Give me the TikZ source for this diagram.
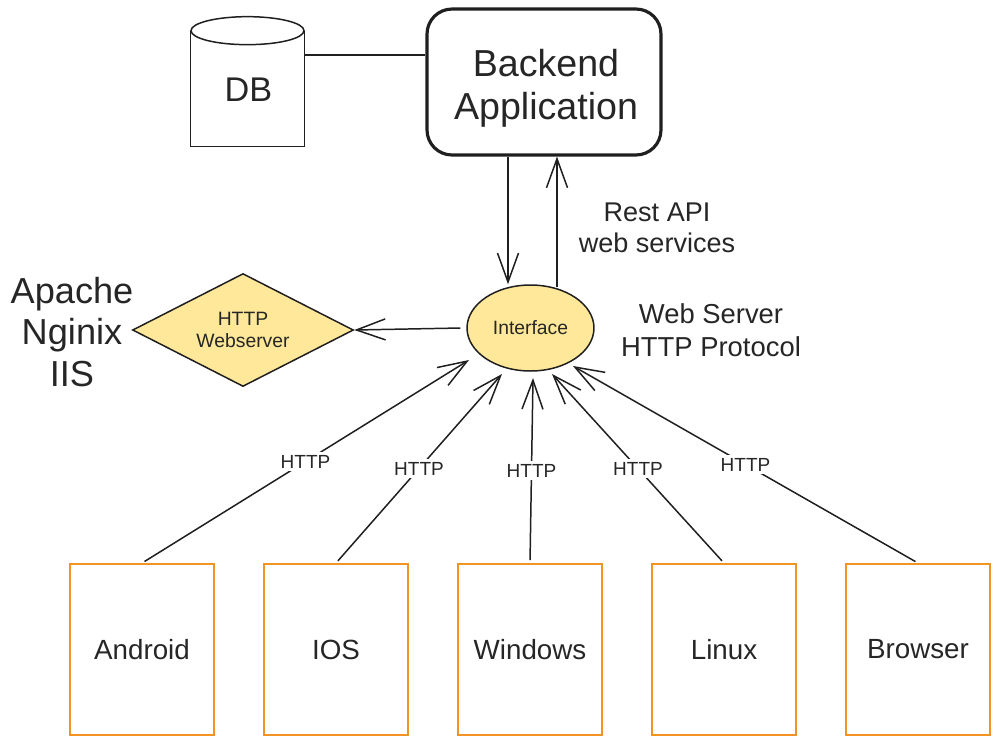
\documentclass[tikz,border=0pt]{standalone}
\usepackage{fontspec}
\setmainfont{Liberation Sans}
\usetikzlibrary{arrows.meta,shapes.geometric,calc}
\definecolor{ink}{HTML}{1F1F1F}
\definecolor{txt}{HTML}{262626}
\definecolor{yel}{HTML}{FFE899}
\definecolor{org}{HTML}{F29423}
\begin{document}
\begin{tikzpicture}[x=0.02cm,y=-0.02cm,
  line/.style={draw=ink, line width=0.85pt},
  arr/.style={line, -{Straight Barb[length=0.58cm,width=0.42cm,line width=0.85pt]}},
  lbl/.style={fill=white, inner sep=1.5pt, font=\fontsize{10.8}{12}\selectfont, text=txt},
  dev/.style={draw=org, line width=1.1pt, minimum width=2.88cm, minimum height=3.42cm, inner sep=0pt, font=\fontsize{15.8}{18}\selectfont, text=txt},
  yshape/.style={draw=ink, line width=0.85pt, fill=yel, inner sep=0pt, text=txt},
  bigtxt/.style={align=center, text=txt}
]
\useasboundingbox (0,0) rectangle (1000,745);

% Database
\node[minimum width=2.26cm, minimum height=2.58cm, inner sep=0pt] (db) at (247.5,81.5) {};
\draw[line] ($(db.north west)+(0,14)$) -- (db.south west) -- (db.south east) -- ($(db.north east)+(0,14)$);
\draw[line] ($(db.north)+(0,14)$) ellipse [x radius=1.13cm, y radius=0.28cm];
\node[font=\fontsize{19.5}{23}\selectfont, text=txt] (dblbl) at (248.5,90) {DB};

% Backend
\node[draw=ink, line width=1.8pt, rounded corners=0.5cm, minimum width=4.68cm, minimum height=2.92cm, inner sep=0pt] (backend) at (544,82) {};
\node[bigtxt, font=\fontsize{21.4}{24.6}\selectfont] (backendlbl) at (546,88.5) {Backend\\Application};

\coordinate (dbport) at (304,55);
\draw[line] (dbport) -- (dbport -| backend.west);

% Interface and webserver
\node[yshape, ellipse, minimum width=2.54cm, minimum height=1.72cm, font=\fontsize{11}{13}\selectfont] (iface) at (530.5,328) {Interface};
\node[yshape, diamond, aspect=1.96, minimum width=4.42cm, minimum height=2.26cm, align=center, font=\fontsize{11}{12.5}\selectfont] (web) at (243,330) {HTTP\\Webserver};

\coordinate (dn) at ($(backend.south)+(-36,0)$);
\coordinate (up) at ($(backend.south)+(13,0)$);
\draw[arr] (dn) -- (dn |- iface.north);
\draw[arr] ($(up |- iface.north)+(0,3)$) -- (up);
\draw[arr] ($(iface.west)+(-6,0)$) -- (web.east);

% Text labels
\node[bigtxt, font=\fontsize{20.6}{23.4}\selectfont] (servers) at (72,332) {Apache\\Nginix\\IIS};
\node[bigtxt, font=\fontsize{15.4}{17.6}\selectfont] (rest) at (657,228) {Rest API\\web services};
\node[bigtxt, font=\fontsize{15.6}{18.6}\selectfont] (proto) at (711,330) {Web Server\\HTTP Protocol};

% Clients
\node[dev] (android) at (142,649.5) {Android};
\node[dev] (ios) at (336,649.5) {IOS};
\node[dev] (windows) at (530,649.5) {Windows};
\node[dev] (linux) at (724,649.5) {Linux};
\node[dev] (browser) at (918,649.5) {Browser};

\coordinate (tA) at (469,360);
\coordinate (tI) at (502,374);
\coordinate (tW) at (533,378);
\coordinate (tL) at (552,374);
\coordinate (tB) at (573,366);

\draw[arr, shorten <=1.7pt] (android.north) -- node[lbl] {HTTP} (tA);
\draw[arr, shorten <=1.7pt] (ios.north) -- node[lbl] {HTTP} (tI);
\draw[arr, shorten <=1.7pt] (windows.north) -- node[lbl] {HTTP} (tW);
\draw[arr, shorten <=1.7pt] (linux.north) -- node[lbl] {HTTP} (tL);
\draw[arr, shorten <=1.7pt] (browser.north) -- node[lbl] {HTTP} (tB);
\end{tikzpicture}
\end{document}
